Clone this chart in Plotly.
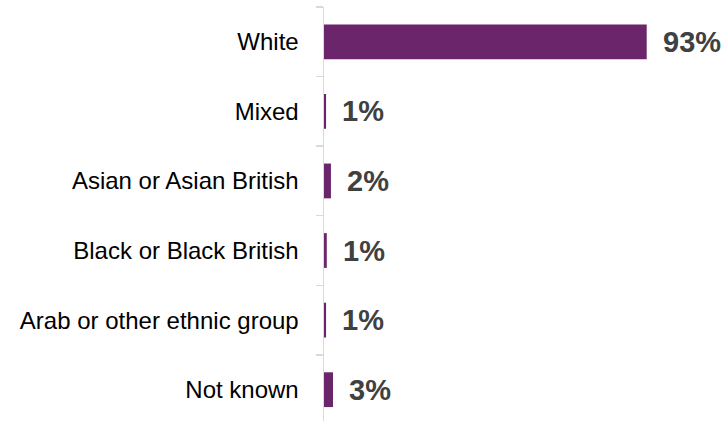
import plotly.graph_objects as go

categories = ["White", "Mixed", "Asian or Asian British", "Black or Black British",
              "Arab or other ethnic group", "Not known"]
values = [93.0, 0.6, 2.0, 0.8, 0.6, 2.6]
value_labels = ["93%", "1%", "2%", "1%", "1%", "3%"]

BAR_COLOR = "#6B256B"
AXIS_COLOR = "#D9D9D9"
FONT = "Liberation Sans, Arial, sans-serif"

fig = go.Figure()
fig.add_trace(go.Bar(
    x=values, y=categories, orientation="h",
    marker=dict(color=BAR_COLOR, line=dict(width=0)),
    width=0.5, hoverinfo="skip",
))

for cat, v, lab in zip(categories, values, value_labels):
    fig.add_annotation(
        x=v, y=cat, text=f"<b>{lab}</b>", showarrow=False,
        xanchor="left", yanchor="middle", xshift=14,
        font=dict(family=FONT, size=29, color="#404040"),
    )

fig.update_layout(
    width=722, height=421,
    margin=dict(l=324, r=51, t=7, b=0),
    paper_bgcolor="white", plot_bgcolor="white",
    showlegend=False,
    font=dict(family=FONT, size=24, color="#000000"),
)
fig.update_xaxes(visible=False, range=[0, 100], fixedrange=True)
fig.update_yaxes(
    type="category", categoryorder="array", categoryarray=categories,
    range=[5.45, -0.5],
    showline=True, linecolor=AXIS_COLOR, linewidth=1.5,
    ticks="outside", tickson="boundaries", ticklen=7, tickwidth=1.5, tickcolor=AXIS_COLOR,
    showgrid=False, zeroline=False, ticklabelstandoff=19,
    tickfont=dict(family=FONT, size=24, color="#000000"),
)

fig.write_html(
    "out.html",
    config={"displayModeBar": False, "staticPlot": True},
    post_script="document.body.style.margin='0';document.body.style.overflow='hidden';",
)
